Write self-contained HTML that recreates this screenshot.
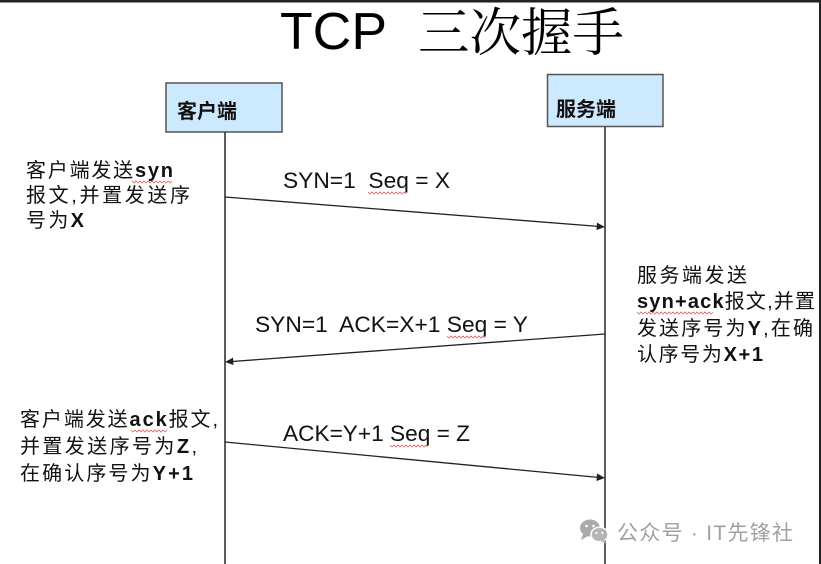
<!DOCTYPE html>
<html><head><meta charset="utf-8">
<style>
html,body{margin:0;padding:0;background:#fff;}
svg{display:block;}
.t{font-family:"Liberation Sans","Noto Sans CJK SC",sans-serif;fill:#111;}
.b{font-weight:bold;}
</style></head>
<body>
<svg width="821" height="564" viewBox="0 0 821 564" xmlns="http://www.w3.org/2000/svg" xml:space="preserve">
<rect x="0" y="0" width="821" height="564" fill="#fff"/>
<rect x="0" y="0" width="821" height="2.5" fill="#222"/>
<rect x="819" y="0" width="2" height="564" fill="#222"/>

<!-- title -->
<text x="280" y="49" font-family="Liberation Sans, sans-serif" font-size="52" fill="#000" textLength="107" lengthAdjust="spacingAndGlyphs">TCP</text>
<text x="418" y="51" font-family="'Noto Serif CJK SC', serif" font-size="52" fill="#000" textLength="206" lengthAdjust="spacingAndGlyphs">三次握手</text>

<!-- boxes -->
<rect x="166" y="83" width="116" height="49" fill="#cde9fd" stroke="#555" stroke-width="1.5"/>
<text x="177" y="118" class="t b" font-size="20" textLength="60">客户端</text>
<rect x="547.5" y="74.5" width="115.5" height="52" fill="#cde9fd" stroke="#555" stroke-width="1.5"/>
<text x="556" y="116" class="t b" font-size="20" textLength="60">服务端</text>

<!-- lifelines -->
<line x1="225" y1="132" x2="225" y2="564" stroke="#333" stroke-width="1.6"/>
<line x1="605" y1="127" x2="605" y2="564" stroke="#333" stroke-width="1.6"/>

<!-- arrow 1 -->
<line x1="225" y1="197" x2="598" y2="226.4" stroke="#222" stroke-width="1.3"/>
<polygon points="605,227 597,222.6 596.5,230" fill="#222"/>
<text x="283" y="188" class="t" font-size="22" textLength="167" lengthAdjust="spacingAndGlyphs">SYN=1&#160; Seq = X</text>
<polyline points="368,192 370,194 372,192 374,194 376,192 378,194 380,192 382,194 384,192 386,194 388,192 390,194 392,192 394,194 396,192 398,194 400,192 402,194 404,192 406,194" fill="none" stroke="#d66" stroke-width="0.8"/>

<!-- arrow 2 -->
<line x1="605" y1="334" x2="232" y2="361.5" stroke="#222" stroke-width="1.3"/>
<polygon points="225,362 233,357.6 233.5,365" fill="#222"/>
<text x="255" y="332" class="t" font-size="22" textLength="273" lengthAdjust="spacingAndGlyphs">SYN=1&#160; ACK=X+1 Seq = Y</text>
<polyline points="447,336 449,338 451,336 453,338 455,336 457,338 459,336 461,338 463,336 465,338 467,336 469,338 471,336 473,338 475,336 477,338 479,336 481,338 483,336 485,338" fill="none" stroke="#d66" stroke-width="0.8"/>

<!-- arrow 3 -->
<line x1="225" y1="442" x2="598" y2="477.4" stroke="#222" stroke-width="1.3"/>
<polygon points="605,478 597,473.4 596.5,481" fill="#222"/>
<text x="283" y="441" class="t" font-size="22" textLength="187" lengthAdjust="spacingAndGlyphs">ACK=Y+1 Seq = Z</text>
<polyline points="390,445 392,447 394,445 396,447 398,445 400,447 402,445 404,447 406,445 408,447 410,445 412,447 414,445 416,447 418,445 420,447 422,445 424,447 426,445 428,447" fill="none" stroke="#d66" stroke-width="0.8"/>

<!-- left text 1 -->
<text x="26" y="177" class="t" font-size="20" textLength="147" lengthAdjust="spacing">客户端发送<tspan class="b">syn</tspan></text>
<polyline points="132,181 134,183 136,181 138,183 140,181 142,183 144,181 146,183 148,181 150,183 152,181 154,183 156,181 158,183 160,181 162,183 164,181 166,183 168,181 170,183 172,181" fill="none" stroke="#d66" stroke-width="0.8"/>
<text x="26" y="202" class="t" font-size="20" textLength="164" lengthAdjust="spacing">报文,并置发送序</text>
<text x="26" y="227" class="t" font-size="20" textLength="58" lengthAdjust="spacing">号为<tspan class="b">X</tspan></text>

<!-- right text -->
<text x="637" y="282" class="t" font-size="20" textLength="110" lengthAdjust="spacing">服务端发送</text>
<text x="637" y="308" class="t" font-size="20" textLength="178" lengthAdjust="spacing"><tspan class="b">syn+ack</tspan>报文,并置</text>
<polyline points="637,312 639,314 641,312 643,314 645,312 647,314 649,312 651,314 653,312 655,314 657,312 659,314 661,312 663,314 665,312 667,314 669,312 671,314 673,312 675,314 677,312 679,314 681,312 683,314 685,312 687,314 689,312 691,314 693,312 695,314 697,312 699,314 701,312 703,314 705,312 707,314 709,312 711,314 713,312" fill="none" stroke="#d66" stroke-width="0.8"/>
<text x="637" y="335" class="t" font-size="20" textLength="176" lengthAdjust="spacing">发送序号为<tspan class="b">Y</tspan>,在确</text>
<text x="637" y="361" class="t" font-size="20" textLength="126" lengthAdjust="spacing">认序号为<tspan class="b">X+1</tspan></text>

<!-- left text 3 -->
<text x="20" y="426" class="t" font-size="20" textLength="198" lengthAdjust="spacing">客户端发送<tspan class="b">ack</tspan>报文,</text>
<polyline points="131,430 133,432 135,430 137,432 139,430 141,432 143,430 145,432 147,430 149,432 151,430 153,432 155,430 157,432 159,430 161,432 163,430 165,432 167,430" fill="none" stroke="#d66" stroke-width="0.8"/>
<text x="20" y="453" class="t" font-size="20" textLength="177" lengthAdjust="spacing">并置发送序号为<tspan class="b">Z</tspan>,</text>
<text x="20" y="480" class="t" font-size="20" textLength="173" lengthAdjust="spacing">在确认序号为<tspan class="b">Y+1</tspan></text>

<!-- watermark -->
<g fill="#a6a6a6" opacity="0.95">
  <ellipse cx="590" cy="528" rx="10" ry="8.5"/>
  <polygon points="583,534 581,540 588,536" />
  <ellipse cx="599.5" cy="534.5" rx="8.5" ry="7.3" fill="#b3b3b3" stroke="#fff" stroke-width="1.5"/>
  <polygon points="604,540 607,544 601,541.5" fill="#b3b3b3"/>
  <circle cx="586.5" cy="526" r="1.3" fill="#fff"/>
  <circle cx="593.5" cy="526" r="1.3" fill="#fff"/>
  <circle cx="596.5" cy="533" r="1.1" fill="#fff"/>
  <circle cx="602.5" cy="533" r="1.1" fill="#fff"/>
</g>
<text x="617" y="540" font-family="'Liberation Sans','Noto Sans CJK SC',sans-serif" font-size="21" fill="#a0a0a0" textLength="176" lengthAdjust="spacing">公众号 · IT先锋社</text>
</svg>
</body></html>
